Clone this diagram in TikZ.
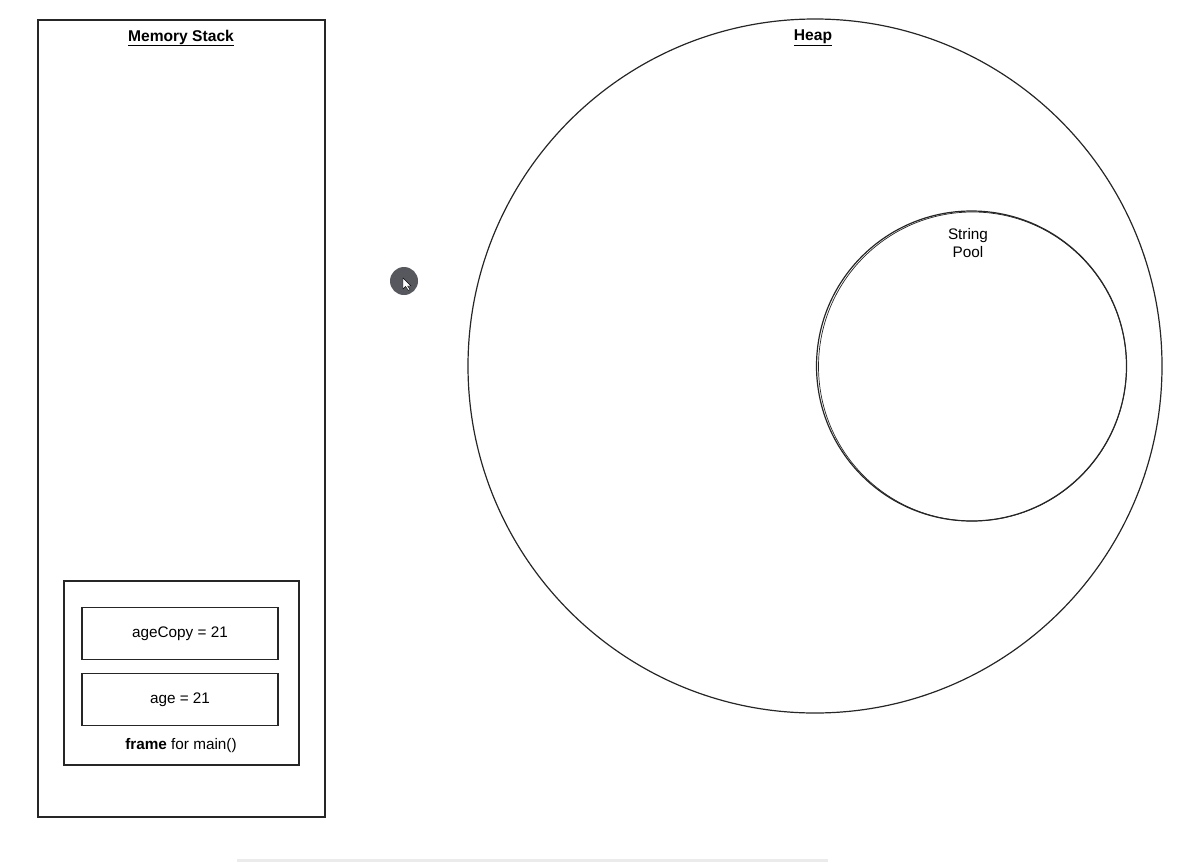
\documentclass[tikz,border=0pt]{standalone}
\usepackage{fontspec}
\setmainfont{Liberation Sans}
\usepackage{xcolor}
\usetikzlibrary{positioning}
\definecolor{cursorgray}{HTML}{57585E}

\begin{document}
\begin{tikzpicture}[
  x=1pt, y=-1pt,
  % --- Box styles ---
  areabox/.style={
    rectangle, draw=black!85, line width=1.2pt,
    minimum width=287pt, minimum height=797pt, inner sep=0pt
  },
  framebox/.style={
    rectangle, draw=black!85, line width=1.2pt,
    minimum width=235pt, minimum height=184pt, inner sep=0pt
  },
  varbox/.style={
    rectangle, draw=black!85, line width=1.2pt,
    minimum width=196pt, minimum height=52pt, font=\fontsize{15.3}{18}\selectfont
  },
  % --- Circles ---
  region/.style={circle, draw=black!85, line width=1.2pt, inner sep=0pt},
  % --- Labels ---
  title/.style={font=\fontsize{15.6}{18}\selectfont\bfseries},
  lbl/.style={font=\fontsize{15.3}{18}\selectfont, align=center},
]
\useasboundingbox (0,0) rectangle (1193,862);

% ===================== STACK =====================
\node[areabox] (stack) at (181.5,418.5) {};
\node[title] (stacklbl) at (181,38) {\underline{Memory Stack}};

\node[framebox] (frame) at (181.5,673) {};
\node[varbox] (agecopy) at (180,633.5) {ageCopy = 21};
\node[varbox, below=13pt of agecopy.south, anchor=north] (age) {age = 21};
\node[lbl] (framelbl) at (181,746) {\textbf{frame} for main()};

% ===================== HEAP =====================
\node[region, minimum size=694pt] (heap) at (815,366) {};
\node[title] (heaplbl) at (813,38) {\underline{Heap}};

% sketchy string pool outline
\node[region, minimum size=310pt] (pool) at (971.5,366) {};
\draw[black!85, line width=0.7pt] (972.5,366.5) ellipse (154pt and 154.5pt);
\node[lbl] (poollbl) at (968,243) {String\\Pool};

% ============= SCREEN LEFTOVERS =============
\node[circle, fill=cursorgray, minimum size=28pt, inner sep=0pt] (cursor) at (404,281) {};
\fill[white, draw=black, line width=0.4pt]
  (cursor.center) ++(-1,-3) -- ++(0,11) -- ++(2.5,-2.5) -- ++(3,4) -- ++(1.5,-1)
  -- ++(-2.5,-3.5) -- ++(3.5,0) -- cycle;
\draw[black!8, line width=3pt] (237,860) -- (828,860);

\end{tikzpicture}
\end{document}
